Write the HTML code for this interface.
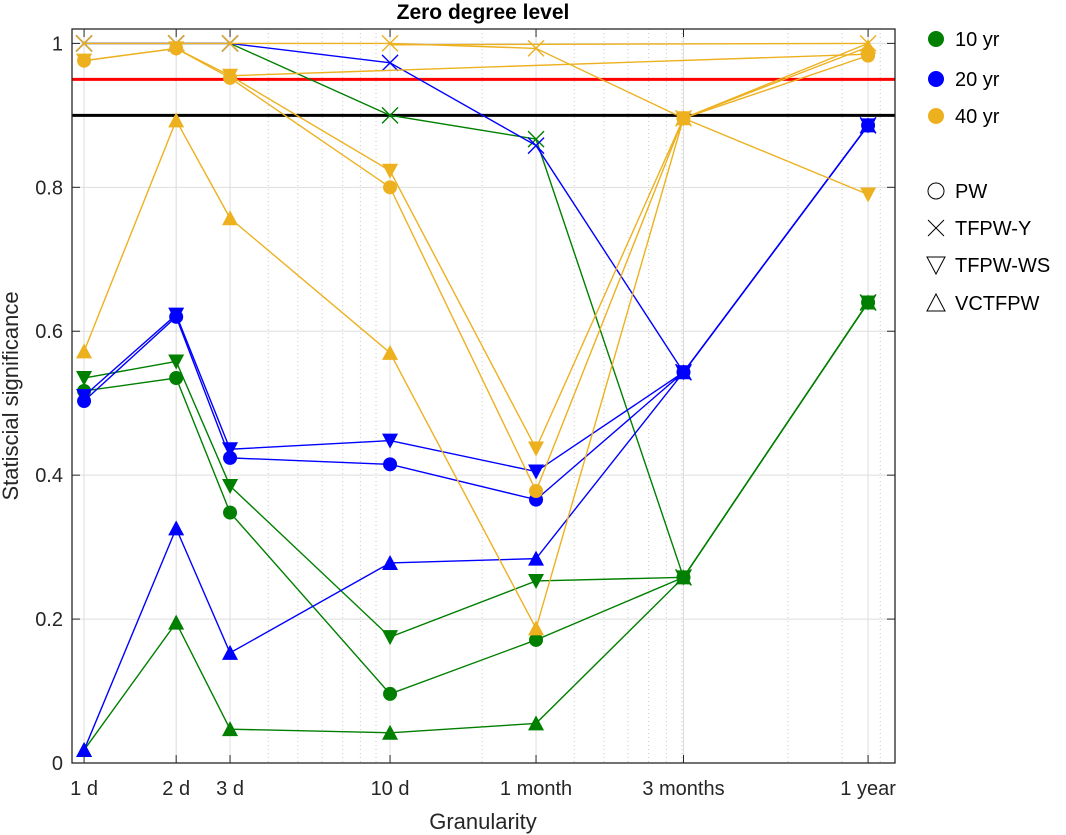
<!DOCTYPE html>
<html><head><meta charset="utf-8"><style>
html,body{margin:0;padding:0;background:#fff;}
svg{display:block;font-family:"Liberation Sans",Arial,sans-serif;}
</style></head><body>
<svg id="chart" width="1066" height="835" viewBox="0 0 1066 835"></svg>
<script>
const categories = ["1 d","2 d","3 d","10 d","1 month","3 months","1 year"];
const days = [1,2,3,10,30,91,365];
const yTicks = [0,0.2,0.4,0.6,0.8,1];
const yTickLabels = ["0","0.2","0.4","0.6","0.8","1"];
// 10 yr
const g10_PW = [0.517,0.535,0.348,0.096,0.171,0.258,0.640];
const g10_TY = [1.0,1.0,1.0,0.900,0.867,0.258,0.640];
const g10_WS = [0.535,0.558,0.385,0.175,0.253,0.258,0.640];
const g10_VC = [0.018,0.195,0.047,0.042,0.055,0.258,0.640];
// 20 yr
const b20_PW = [0.503,0.620,0.424,0.415,0.366,0.543,0.886];
const b20_TY = [1.0,1.0,1.0,0.973,0.858,0.543,0.886];
const b20_WS = [0.510,0.623,0.436,0.448,0.405,0.543,0.886];
const b20_VC = [0.018,0.326,0.153,0.278,0.284,0.543,0.886];
// 40 yr
const o40_PW = [0.976,0.993,0.952,0.800,0.378,0.896,0.983];
const o40_TY = [1.0,1.0,1.0,1.0,0.993,0.896,1.0];
const o40_WS = [0.976,0.993,0.955,0.823,0.437,0.896,0.790];
const o40_VC = [0.572,0.893,0.757,0.570,0.187,0.896,0.995];
const o40_extraA = [null,null,0.955,null,null,null,0.985];
const o40_extraB = [null,null,null,0.998,null,null,1.0];
const refLines = [0.95,0.90];

const L=72,R=895,T=29,B=763;
const xmin=Math.log10(0.9132),xmax=Math.log10(447);
const X=d=>L+(Math.log10(d)-xmin)/(xmax-xmin)*(R-L);
const Y=v=>B-(v/1.02)*(B-T);
const svg=document.getElementById('chart');
const NS='http://www.w3.org/2000/svg';
function mk(tag,attrs,parent){const e=document.createElementNS(NS,tag);for(const k in attrs)e.setAttribute(k,attrs[k]);(parent||svg).appendChild(e);return e;}

for(let k=0;k<3;k++)for(let m=2;m<=9;m++){const d=m*Math.pow(10,k);const x=X(d);if(x<=L||x>=R)continue;
 const l=mk('line',{x1:x,x2:x,y1:T,y2:B,stroke:'#c8c8c8','stroke-width':1,'stroke-dasharray':'1,3'});
 
 }
days.forEach((d,i)=>{const l=mk('line',{x1:X(d),x2:X(d),y1:T,y2:B,stroke:'#dedede','stroke-width':1});
 
 });
yTicks.forEach(v=>{const l=mk('line',{x1:L,x2:R,y1:Y(v),y2:Y(v),stroke:'#dedede','stroke-width':1});
 
 });

const refCols=['#ff0000','#000000'];
refLines.forEach((v,i)=>{const l=mk('line',{x1:L,x2:R,y1:Y(v),y2:Y(v),stroke:refCols[i],'stroke-width':3});
 
 });

function marker(type,x,y,col,g){
 if(type==='o'){return mk('circle',{cx:x,cy:y,r:7,fill:col},g);}
 if(type==='x'){return mk('path',{d:`M${x-8},${y-8}L${x+8},${y+8}M${x-8},${y+8}L${x+8},${y-8}`,stroke:col,'stroke-width':1.4,fill:'none'},g);}
 if(type==='v'){return mk('path',{d:`M${x-8},${y-7}L${x+8},${y-7}L${x},${y+8}Z`,fill:col},g);}
 if(type==='^'){return mk('path',{d:`M${x-8},${y+7}L${x+8},${y+7}L${x},${y-8}Z`,fill:col},g);}
}
function series(vals,col,type,name){
 const g=mk('g',{});
 
 
 const pts=[];vals.forEach((v,i)=>{if(v!==null)pts.push([X(days[i]),Y(v)]);});
 mk('polyline',{points:pts.map(p=>p.join(',')).join(' '),fill:'none',stroke:col,'stroke-width':1.4},g);
 if(type)pts.forEach(p=>marker(type,p[0],p[1],col,g));
}
const G='#007f00',Bl='#0000ff',O='#edb120';
series(g10_PW,G,'o','series-10yr-pw');series(g10_TY,G,'x','series-10yr-tfpw-y');series(g10_WS,G,'v','series-10yr-tfpw-ws');series(g10_VC,G,'^','series-10yr-vctfpw');
series(b20_PW,Bl,'o','series-20yr-pw');series(b20_TY,Bl,'x','series-20yr-tfpw-y');series(b20_WS,Bl,'v','series-20yr-tfpw-ws');series(b20_VC,Bl,'^','series-20yr-vctfpw');
series(o40_extraA,O,null,'series-40yr-extra-a');series(o40_extraB,O,null,'series-40yr-extra-b');
series(o40_PW,O,'o','series-40yr-pw');series(o40_TY,O,'x','series-40yr-tfpw-y');series(o40_WS,O,'v','series-40yr-tfpw-ws');series(o40_VC,O,'^','series-40yr-vctfpw');

const box=mk('rect',{x:L,y:T,width:R-L,height:B-T,fill:'none',stroke:'#262626','stroke-width':1.3});


days.forEach((d,i)=>{const x=X(d);
 mk('line',{x1:x,x2:x,y1:B,y2:B-8,stroke:'#262626'});mk('line',{x1:x,x2:x,y1:T,y2:T+8,stroke:'#262626'});
 const t=mk('text',{x:x,y:B+32,'text-anchor':'middle','font-size':20,fill:'#262626'});t.textContent=categories[i];
 
 });
yTicks.forEach((v,i)=>{const y=Y(v);
 mk('line',{x1:L,x2:L+8,y1:y,y2:y,stroke:'#262626'});mk('line',{x1:R,x2:R-8,y1:y,y2:y,stroke:'#262626'});
 const t=mk('text',{x:L-9,y:y+7,'text-anchor':'end','font-size':20,fill:'#262626'});t.textContent=yTickLabels[i];
 
 });

const title=mk('text',{x:483,y:19,'text-anchor':'middle','font-size':21,'font-weight':'bold',fill:'#000'});title.textContent='Zero degree level';


const xl=mk('text',{x:483,y:829,'text-anchor':'middle','font-size':22,fill:'#262626'});xl.textContent='Granularity';


const yl=mk('text',{x:0,y:0,'text-anchor':'middle','font-size':22,fill:'#262626',transform:'translate(18,396) rotate(-90)'});yl.textContent='Statiscial significance';



const legCols=[[G,'10 yr',39],[Bl,'20 yr',79],[O,'40 yr',116]];
legCols.forEach(c=>{const g=mk('g',{});
 
 
 mk('circle',{cx:936,cy:c[2],r:8,fill:c[0]},g);
 const t=mk('text',{x:955,y:c[2]+7,'font-size':20,fill:'#000'},g);t.textContent=c[1];});
const legM=[['o','PW',191],['x','TFPW-Y',228],['v','TFPW-WS',265],['^','VCTFPW',303]];
legM.forEach(c=>{const g=mk('g',{});
 
 
 const x=936,y=c[2];
 if(c[0]==='o')mk('circle',{cx:x,cy:y,r:8,fill:'none',stroke:'#000','stroke-width':1},g);
 if(c[0]==='x')mk('path',{d:`M${x-8},${y-8}L${x+8},${y+8}M${x-8},${y+8}L${x+8},${y-8}`,stroke:'#000','stroke-width':1,fill:'none'},g);
 if(c[0]==='v')mk('path',{d:`M${x-9},${y-8}L${x+9},${y-8}L${x},${y+9}Z`,stroke:'#000','stroke-width':1,fill:'none'},g);
 if(c[0]==='^')mk('path',{d:`M${x-9},${y+8}L${x+9},${y+8}L${x},${y-9}Z`,stroke:'#000','stroke-width':1,fill:'none'},g);
 const t=mk('text',{x:955,y:y+7,'font-size':20,fill:'#000'},g);t.textContent=c[1];});
</script>
</body></html>
